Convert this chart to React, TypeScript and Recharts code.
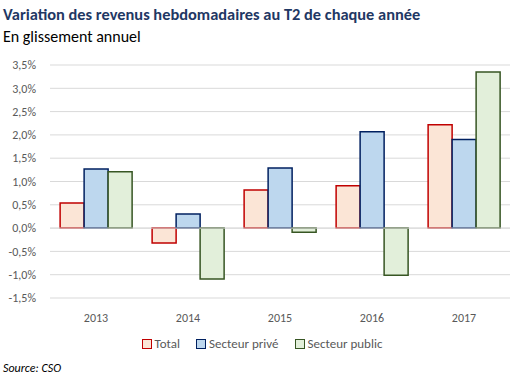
import React from 'react';
import { Bar, BarChart, CartesianGrid, ReferenceLine, XAxis, YAxis } from 'recharts';

const years = ['2013', '2014', '2015', '2016', '2017'];
const total = [0.54, -0.32, 0.82, 0.91, 2.22];
const prive = [1.27, 0.3, 1.29, 2.07, 1.9];
const publique = [1.21, -1.09, -0.09, -1.01, 3.35];
const yTicks = [-1.5, -1, -0.5, 0, 0.5, 1, 1.5, 2, 2.5, 3, 3.5];

const series = [
  { key: 'total', name: 'Total', fill: '#FBE5D6', stroke: '#C00000' },
  { key: 'prive', name: 'Secteur privé', fill: '#BDD7EE', stroke: '#002060' },
  { key: 'public', name: 'Secteur public', fill: '#E2EFDA', stroke: '#375623' },
];

const data = years.map((y, i) => ({ year: y, total: total[i], prive: prive[i], public: publique[i] }));

const font = 'Calibri, Carlito, "Open Sans", sans-serif';

const fmt = (v: number) => v.toFixed(1).replace('.', ',') + '%';

const App: React.FC = () => {
  return (
    <div style={{ position: 'absolute', left: 0, top: 0, width: 524, height: 388, background: '#fff', fontFamily: font }}>
      <div style={{ position: 'absolute', left: 3, top: 4, fontSize: 16.4, fontWeight: 'bold', color: '#1F3864', whiteSpace: 'nowrap' }}>
        Variation des revenus hebdomadaires au T2 de chaque année
      </div>
      <div style={{ position: 'absolute', left: 3, top: 27, fontSize: 16, color: '#000' }}>En glissement annuel</div>
      <div style={{ position: 'absolute', left: 3, top: 361, fontSize: 12, fontStyle: 'italic', color: '#000' }}>Source: CSO</div>
      <div
        style={{
          position: 'absolute',
          left: 0,
          top: 336,
          width: 524,
          display: 'flex',
          justifyContent: 'center',
          fontSize: 13,
          color: '#595959',
        }}
      >
        {series.map((s) => (
          <div key={s.key} style={{ display: 'flex', alignItems: 'center', margin: '0 8px' }}>
            <span style={{ width: 8, height: 8, background: s.fill, border: `1.5px solid ${s.stroke}`, marginRight: 3 }} />
            {s.name}
          </div>
        ))}
      </div>
      <BarChart
        width={524}
        height={388}
        data={data}
        margin={{ top: 65, right: 14, bottom: 60, left: 0 }}
        barGap={0}
        barCategoryGap="11%"
      >
        <CartesianGrid vertical={false} stroke="#D9D9D9" strokeWidth={1} />
        <XAxis
          dataKey="year"
          axisLine={false}
          tickLine={false}
          tickMargin={9}
          height={30}
          tick={{ fill: '#595959', fontSize: 12, fontFamily: font }}
        />
        <YAxis
          domain={[-1.5, 3.5]}
          ticks={yTicks}
          tickFormatter={fmt}
          axisLine={false}
          tickLine={false}
          width={50}
          tickMargin={8}
          tick={{ fill: '#595959', fontSize: 12, fontFamily: font }}
        />
        <ReferenceLine y={0} stroke="#D9D9D9" />
        {series.map((s) => (
          <Bar
            key={s.key}
            dataKey={s.key}
            name={s.name}
            fill={s.fill}
            stroke={s.stroke}
            strokeWidth={1.5}
            isAnimationActive={false}
          />
        ))}
      </BarChart>
    </div>
  );
};

export default App;
